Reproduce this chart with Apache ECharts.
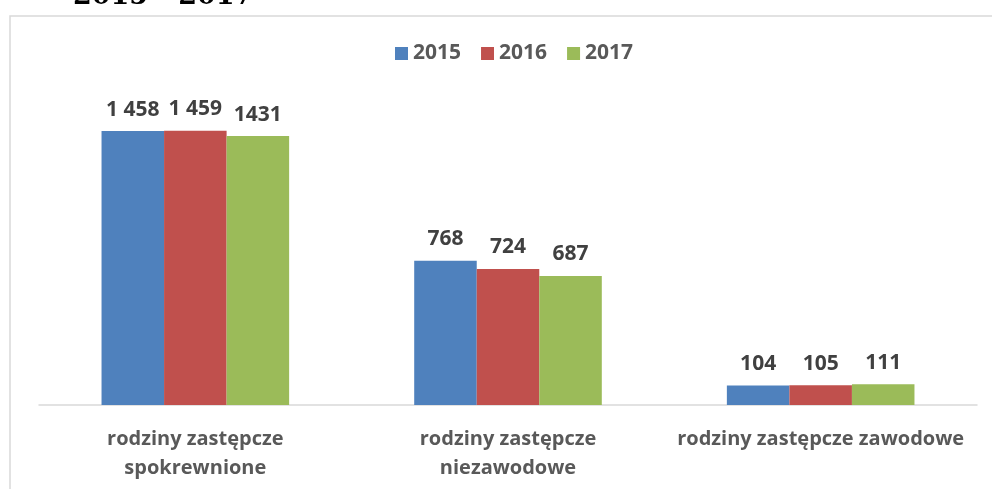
<!DOCTYPE html>
<html><head><meta charset="utf-8">
<script src="https://cdn.jsdelivr.net/npm/echarts@6/dist/echarts.min.js"></script>
<style>html,body{margin:0;padding:0;background:#fff}#c{width:992px;height:489px}</style>
</head><body><div id="c"></div>
<script>
const categories = ['rodziny zastępcze\nspokrewnione', 'rodziny zastępcze\nniezawodowe', 'rodziny zastępcze zawodowe'];
const years = ['2015', '2016', '2017'];
const v2015 = [1458, 768, 104];
const v2016 = [1459, 724, 105];
const v2017 = [1431, 687, 111];
const labels2015 = ['1 458', '768', '104'];
const labels2016 = ['1 459', '724', '105'];
const labels2017 = ['1431', '687', '111'];
const colors = ['#4F81BD', '#C0504D', '#9BBB59'];
const font = 'Open Sans, Liberation Sans, sans-serif';

const chart = echarts.init(document.getElementById('c'));
const mk = (name, data, lbls, color) => ({
  name, type: 'bar', data, barGap: '0%', barCategoryGap: '40%',
  itemStyle: { color },
  label: { show: true, position: 'top', distance: 11, formatter: p => lbls[p.dataIndex],
    color: '#404040', fontWeight: 'bold', fontSize: 21, fontFamily: font }
});
chart.setOption({
  animation: false,
  graphic: [
    { type: 'rect', shape: { x: 10, y: 16, width: 1000, height: 500 }, style: { fill: 'none', stroke: '#d9d9d9', lineWidth: 1.5 } },
    { type: 'text', left: 73, top: -17, style: { text: '2015 - 2017', font: 'bold 27px "DejaVu Serif", serif', fill: '#000' } }
  ],
  legend: { top: 38, left: 390, itemWidth: 13, itemHeight: 13, itemGap: 20, icon: 'rect',
    textStyle: { color: '#595959', fontWeight: 'bold', fontSize: 21, fontFamily: font } },
  grid: { left: 39, right: 15, top: 29.2, bottom: 84 },
  xAxis: { type: 'category', data: categories,
    axisLine: { lineStyle: { color: '#d9d9d9', width: 1.5 } }, axisTick: { show: false },
    axisLabel: { interval: 0, color: '#595959', fontWeight: 'bold', fontSize: 20, fontFamily: font, margin: 20, lineHeight: 29 } },
  yAxis: { type: 'value', min: 0, max: 2000, show: false, splitLine: { show: false } },
  series: [mk(years[0], v2015, labels2015, colors[0]), mk(years[1], v2016, labels2016, colors[1]), mk(years[2], v2017, labels2017, colors[2])]
});
</script></body></html>
